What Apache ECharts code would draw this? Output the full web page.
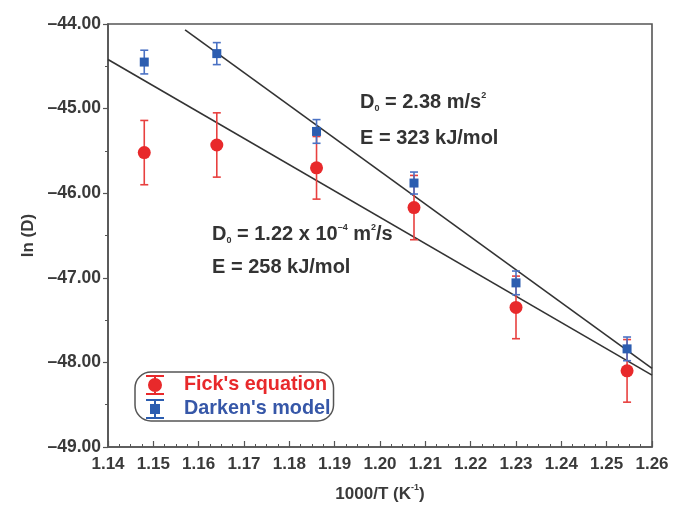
<!DOCTYPE html>
<html>
<head>
<meta charset="utf-8">
<script src="https://cdn.jsdelivr.net/npm/echarts@6/dist/echarts.min.js"></script>
<style>html,body{margin:0;padding:0;background:#fff}#c{width:673px;height:510px}</style>
</head>
<body>
<div id="c"></div>
<script>
// ---- data ----
var xValues = [1.148, 1.164, 1.186, 1.2075, 1.230, 1.2545];
var fickValues = [-45.52, -45.43, -45.70, -46.17, -47.35, -48.10];
var fickErrors = [0.38, 0.38, 0.37, 0.38, 0.37, 0.37];
var darkenValues = [-44.45, -44.35, -45.27, -45.88, -47.06, -47.84];
var darkenErrors = [0.14, 0.13, 0.14, 0.13, 0.14, 0.14];
var fickFitX = [1.14, 1.26];
var fickFitY = [-44.42, -48.15];
var darkenFitX = [1.157, 1.26];
var darkenFitY = [-44.07, -48.07];
var seriesNames = ["Fick's equation", "Darken's model"];
var xTickMin = 1.14, xTickMax = 1.26, xTickStep = 0.01;
var yTickMin = -49, yTickMax = -44, yTickStep = 1;

var RED = '#e8292b', RED_BAR = '#e8403f';
var BLUE = '#2c5db0', BLUE_BAR = '#4b72c4';
var TXT = '#3a3a3a';
var FONT = '"Liberation Sans", Arial, sans-serif';

function pairs(xs, ys) { return xs.map(function (x, i) { return [x, ys[i]]; }); }
function errData(xs, ys, es) { return xs.map(function (x, i) { return [x, ys[i] - es[i], ys[i] + es[i]]; }); }

function errRender(color, cap) {
  return function (params, api) {
    var lo = api.coord([api.value(0), api.value(1)]);
    var hi = api.coord([api.value(0), api.value(2)]);
    var st = { stroke: color, lineWidth: 1.6 };
    return {
      type: 'group',
      children: [
        { type: 'line', shape: { x1: lo[0], y1: lo[1], x2: hi[0], y2: hi[1] }, style: st },
        { type: 'line', shape: { x1: lo[0] - cap, y1: lo[1], x2: lo[0] + cap, y2: lo[1] }, style: st },
        { type: 'line', shape: { x1: hi[0] - cap, y1: hi[1], x2: hi[0] + cap, y2: hi[1] }, style: st }
      ]
    };
  };
}

var fickIcon = 'path://M1 0H19V2H1Z M9 0H11V20H9Z M1 18H19V20H1Z M3 10A7 7 0 1 1 17 10A7 7 0 1 1 3 10Z';
var darkenIcon = 'path://M1 0H19V2H1Z M9 0H11V20H9Z M1 18H19V20H1Z M5 5H15V15H5Z';

var annRich = {
  b: { fontSize: 20, fontWeight: 'bold', fill: '#333', fontFamily: FONT, lineHeight: 22 },
  s: { fontSize: 9, fontWeight: 'bold', fill: '#333', fontFamily: FONT, verticalAlign: 'bottom', lineHeight: 6 },
  p: { fontSize: 9, fontWeight: 'bold', fill: '#333', fontFamily: FONT, verticalAlign: 'top', lineHeight: 6 }
};
function ann(x, y, txt) { return { type: 'text', left: x, top: y, style: { text: txt, rich: annRich } }; }

var chart = echarts.init(document.getElementById('c'));
chart.setOption({
  animation: false,
  backgroundColor: '#fff',
  textStyle: { fontFamily: FONT },
  grid: { left: 108, right: 21, top: 24, bottom: 63, show: true, borderColor: '#555', borderWidth: 1.6, backgroundColor: 'transparent' },
  xAxis: {
    type: 'value', min: xTickMin, max: xTickMax, interval: xTickStep,
    name: '{a|1000/T (K}{s|-1}{a|)}', nameLocation: 'middle', nameGap: 36,
    nameTextStyle: { rich: {
      a: { fontSize: 17, fontWeight: 'bold', color: TXT, fontFamily: FONT, lineHeight: 22 },
      s: { fontSize: 9, fontWeight: 'bold', color: TXT, fontFamily: FONT, verticalAlign: 'top', lineHeight: 8 }
    } },
    axisLine: { lineStyle: { color: '#555', width: 1.6 } },
    axisTick: { inside: true, length: 6, lineStyle: { color: '#555', width: 1.2 } },
    minorTick: { show: true, splitNumber: 4, length: 3, lineStyle: { color: '#555', width: 1 } },
    splitLine: { show: false },
    axisLabel: { fontSize: 17, fontWeight: 'bold', color: TXT, margin: 9, fontFamily: FONT,
      formatter: function (v) { return v.toFixed(2); } }
  },
  yAxis: {
    type: 'value', min: yTickMin, max: yTickMax, interval: yTickStep,
    name: 'ln (D)', nameLocation: 'middle', nameGap: 70, nameRotate: 90,
    nameTextStyle: { fontSize: 17, fontWeight: 'bold', color: TXT, fontFamily: FONT },
    axisLine: { lineStyle: { color: '#555', width: 1.6 } },
    axisTick: { inside: false, length: 5, lineStyle: { color: '#555', width: 1.2 } },
    minorTick: { show: true, splitNumber: 2, length: 3, lineStyle: { color: '#555', width: 1 } },
    splitLine: { show: false },
    axisLabel: { fontSize: 17.5, fontWeight: 'bold', color: TXT, margin: 7, fontFamily: FONT,
      formatter: function (v) { return v.toFixed(2).replace('-', '\u2013'); } }
  },
  legend: {
    orient: 'vertical', left: 135, top: 372,
    padding: [3, 3, 2, 11],
    borderColor: '#555', borderWidth: 1.5, borderRadius: 16,
    itemWidth: 20, itemHeight: 20, itemGap: 4,
    textStyle: { fontSize: 19.8, fontWeight: 'bold', fontFamily: FONT, padding: [0, 0, 0, 14] },
    data: [
      { name: seriesNames[0], icon: fickIcon, itemStyle: { color: RED }, textStyle: { color: RED } },
      { name: seriesNames[1], icon: darkenIcon, itemStyle: { color: BLUE }, textStyle: { color: '#3657a8' } }
    ]
  },
  graphic: [
    ann(360, 91, '{b|D}{s|0}{b| = 2.38 m/s}{p|2}'),
    ann(360, 128, '{b|E = 323 kJ/mol}'),
    ann(212, 223, '{b|D}{s|0}{b| = 1.22 x 10}{p|\u20134}{b| m}{p|2}{b|/s}'),
    ann(212, 257, '{b|E = 258 kJ/mol}')
  ],
  series: [
    { type: 'line', data: pairs(fickFitX, fickFitY), symbol: 'none', lineStyle: { color: '#333', width: 1.6 }, silent: true, z: 1 },
    { type: 'line', data: pairs(darkenFitX, darkenFitY), symbol: 'none', lineStyle: { color: '#333', width: 1.6 }, silent: true, z: 1 },
    { type: 'custom', data: errData(xValues, fickValues, fickErrors), renderItem: errRender(RED_BAR, 4), encode: { x: 0, y: [1, 2] }, z: 2 },
    { type: 'scatter', name: seriesNames[0], data: pairs(xValues, fickValues), symbol: 'circle', symbolSize: 13, itemStyle: { color: RED, opacity: 1 }, z: 3 },
    { type: 'custom', data: errData(xValues, darkenValues, darkenErrors), renderItem: errRender(BLUE_BAR, 4), encode: { x: 0, y: [1, 2] }, z: 4 },
    { type: 'scatter', name: seriesNames[1], data: pairs(xValues, darkenValues), symbol: 'rect', symbolSize: 9, itemStyle: { color: BLUE, opacity: 1 }, z: 5 }
  ]
});
</script>
</body>
</html>
